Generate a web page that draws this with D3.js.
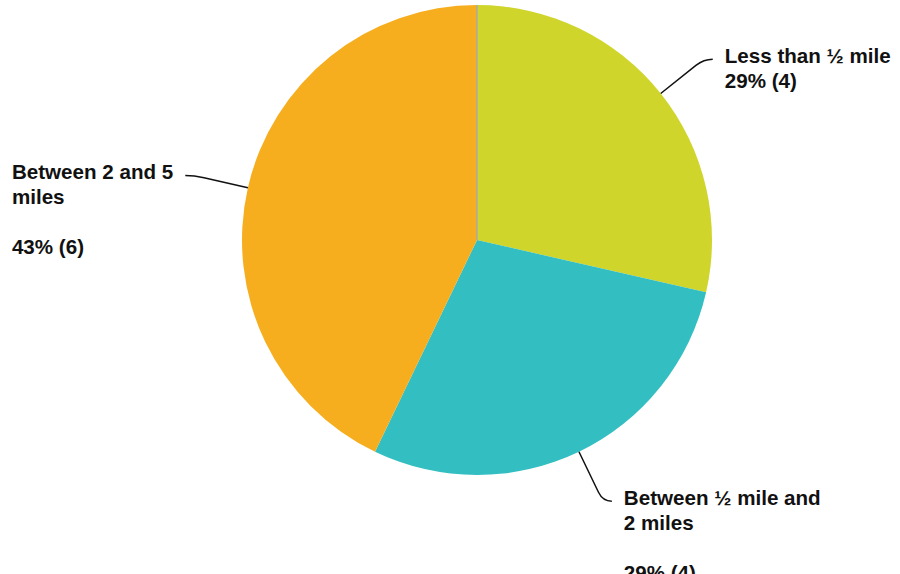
<!DOCTYPE html>
<html>
<head>
<meta charset="utf-8">
<script src="https://cdn.jsdelivr.net/npm/d3@7"></script>
<style>
  body { margin: 0; background: #fff; }
  text { font-family: "Liberation Sans", Arial, sans-serif; font-weight: bold; fill: #111; }
</style>
</head>
<body>
<div id="pie-chart"></div>
<script>
// answers and counts
var categories = ["Less than ½ mile", "Between ½ mile and 2 miles", "Between 2 and 5 miles", "More than 5 miles"];
var counts = [4, 4, 6, 0];
var colors = ["#cfd52a", "#33bec1", "#f6ae1e", "#a9a9a9"];
// label text as wrapped in the picture (blank line kept where it is)
var nameLines = [["Less than ½ mile"], ["Between ½ mile and", "2 miles", ""], ["Between 2 and 5", "miles", ""], []];

var width = 900, height = 574,
    cx = 477, cy = 240, radius = 235;

var svg = d3.select("#pie-chart").append("svg").attr("width", width).attr("height", height),
    g = svg.append("g").attr("transform", `translate(${cx},${cy})`);

var total = d3.sum(counts);
var pieData = categories.map((c, i) => { return {name: c, count: counts[i], color: colors[i], lines: nameLines[i]} });

var pie = d3.pie().sort(null).value(d => d.count);
var arc = d3.arc().innerRadius(0).outerRadius(radius);
var arcs = pie(pieData);

g.selectAll("path.slice").data(arcs).enter().append("path")
  .attr("class", "slice")
  .attr("d", arc)
  .attr("fill", d => d.data.color)
  .attr("stroke", d => d.data.count === 0 ? d.data.color : "none")
  .attr("stroke-width", 1);

// leader lines + labels
var elbowR = 290, tail = 9, gap = 12, fontSize = 20.6, lineH = 25;
arcs.filter(d => d.data.count > 0).forEach(d => {
  var a = (d.startAngle + d.endAngle) / 2,
      dx = Math.sin(a), dy = -Math.cos(a),
      s = [dx * radius, dy * radius],
      c = [dx * elbowR, dy * elbowR],
      side = dx >= 0 ? 1 : -1,
      e = [c[0] + side * tail, c[1]],
      pre = [dx * (elbowR - 10), dy * (elbowR - 10)];
  g.append("path")
    .attr("d", `M${s[0]},${s[1]}L${pre[0]},${pre[1]}Q${c[0]},${c[1]} ${e[0]},${e[1]}`)
    .attr("fill", "none").attr("stroke", "#111").attr("stroke-width", 1.5);

  var pct = Math.round(d.data.count / total * 100) + "% (" + d.data.count + ")";
  var lines = d.data.lines.concat([pct]);
  var txt = g.append("text").style("font-size", fontSize + "px");
  lines.forEach((l, i) => {
    txt.append("tspan").attr("dy", i === 0 ? 0 : lineH).attr("x", 0).text(l === "" ? "\u00a0" : l);
  });
  var w = d3.max(txt.selectAll("tspan").nodes(), n => n.getComputedTextLength());
  var tx = side > 0 ? e[0] + gap : e[0] - gap - w;
  txt.attr("transform", `translate(${tx},${e[1] + 4})`);
});
</script>
</body>
</html>
